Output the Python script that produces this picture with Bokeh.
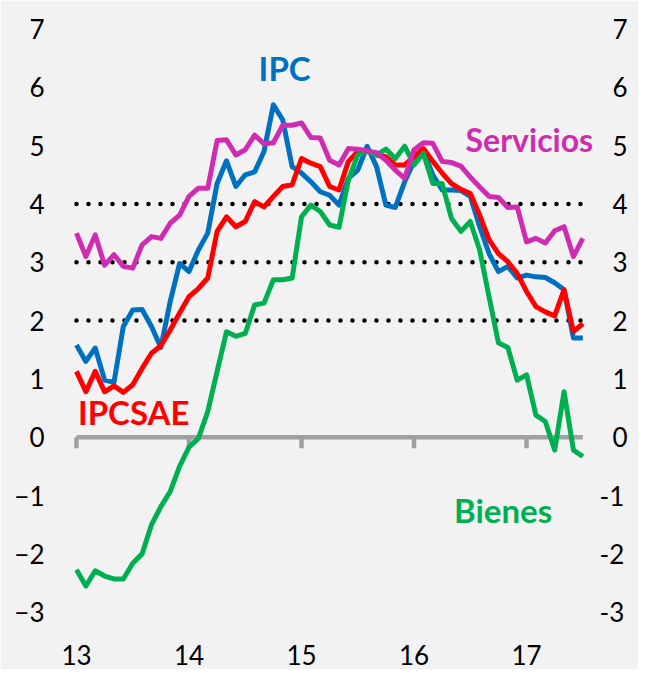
from bokeh.plotting import figure
from bokeh.models import Range1d, LinearAxis, FixedTicker, Label
from bokeh.embed import file_html
from bokeh.resources import INLINE

# Monthly data, Jan 2013 .. Jul 2017 (annual % change)
ipc = [1.58, 1.30, 1.53, 0.98, 0.94, 1.90, 2.18, 2.19, 1.90, 1.54, 2.33, 2.98,
       2.84, 3.21, 3.50, 4.35, 4.74, 4.30, 4.50, 4.55, 4.90, 5.70, 5.44, 4.64,
       4.53, 4.38, 4.21, 4.15, 3.98, 4.44, 4.58, 4.99, 4.64, 3.98, 3.94, 4.38,
       4.73, 4.90, 4.50, 4.24, 4.24, 4.23, 4.13, 3.61, 3.15, 2.84, 2.93, 2.73,
       2.78, 2.75, 2.74, 2.65, 2.53, 1.70, 1.70]
ipcsae = [1.13, 0.78, 1.13, 0.78, 0.88, 0.77, 0.90, 1.18, 1.44, 1.57, 1.84, 2.13,
          2.41, 2.55, 2.73, 3.53, 3.78, 3.61, 3.70, 4.04, 3.95, 4.13, 4.30, 4.33,
          4.78, 4.70, 4.64, 4.30, 4.24, 4.73, 4.90, 4.91, 4.84, 4.81, 4.67, 4.67,
          4.81, 4.95, 4.73, 4.53, 4.35, 4.25, 4.18, 3.81, 3.39, 3.15, 3.01, 2.81,
          2.50, 2.24, 2.15, 2.08, 2.53, 1.81, 1.95]
servicios = [3.50, 3.10, 3.47, 2.95, 3.13, 2.93, 2.90, 3.30, 3.44, 3.41, 3.67, 3.81,
             4.13, 4.27, 4.27, 5.09, 5.10, 4.84, 4.93, 5.18, 5.03, 5.05, 5.35, 5.35,
             5.39, 5.14, 5.13, 4.75, 4.67, 4.95, 4.94, 4.91, 4.88, 4.75, 4.58, 4.44,
             4.93, 5.05, 5.04, 4.73, 4.71, 4.65, 4.46, 4.29, 4.13, 4.11, 3.94, 3.95,
             3.35, 3.41, 3.33, 3.54, 3.61, 3.10, 3.41]
bienes = [-2.27, -2.55, -2.29, -2.38, -2.43, -2.43, -2.16, -2.00, -1.50, -1.19, -0.93, -0.50,
          -0.17, -0.02, 0.44, 1.13, 1.81, 1.73, 1.78, 2.27, 2.30, 2.70, 2.70, 2.73,
          3.78, 3.98, 3.87, 3.64, 3.60, 4.41, 4.84, 4.90, 4.84, 4.94, 4.78, 4.99,
          4.67, 4.87, 4.35, 4.35, 3.75, 3.53, 3.70, 3.21, 2.41, 1.62, 1.54, 0.98,
          1.07, 0.38, 0.27, -0.22, 0.78, -0.22, -0.33]

year_ticks = [0, 12, 24, 36, 48]
year_labels = ["13", "14", "15", "16", "17"]
y_ticks = [-3, -2, -1, 0, 1, 2, 3, 4, 5, 6, 7]
ref_lines = [2, 3, 4]

x = list(range(len(ipc)))

FONT = "Lato"
BG = "#f2f2f2"
GRAY = "#a0a0a0"

p = figure(width=638, height=669, output_backend="svg", toolbar_location=None,
           x_range=Range1d(-1.49, 55.14), y_range=Range1d(-3.005, 7.283),
           min_border_left=62, min_border_right=45, min_border_top=12,
           min_border_bottom=57, background_fill_color=BG, border_fill_color=BG)
p.outline_line_color = None
p.xgrid.visible = False
p.ygrid.visible = False

# bottom axis
xa = p.xaxis[0]
xa.ticker = FixedTicker(ticks=year_ticks)
xa.major_label_overrides = {t: l for t, l in zip(year_ticks, year_labels)}
xa.axis_line_color = None
xa.major_tick_line_color = None
xa.minor_tick_line_color = None
xa.major_label_text_font = FONT
xa.major_label_text_font_size = "26px"
xa.major_label_text_color = "black"
xa.major_label_standoff = 26

# left axis
ya = p.yaxis[0]
ya.ticker = FixedTicker(ticks=y_ticks)
ya.axis_line_color = None
ya.major_tick_line_color = None
ya.minor_tick_line_color = None
ya.major_label_text_font = FONT
ya.major_label_text_font_size = "26px"
ya.major_label_text_color = "black"
ya.major_label_standoff = 12

# right axis (single digits padded so that they right-align with "-n")
ra = LinearAxis(ticker=FixedTicker(ticks=y_ticks))
ra.axis_line_color = None
ra.major_tick_line_color = None
ra.minor_tick_line_color = None
ra.major_label_text_font = FONT
ra.major_label_text_font_size = "26px"
ra.major_label_text_color = "black"
ra.major_label_standoff = 0
ra.major_label_overrides = {t: ("\u2002" + str(t) if t >= 0 else str(t)) for t in y_ticks}
p.add_layout(ra, "right")

n = len(ref_lines)
# dotted reference lines spanning the data period
p.segment(x0=[x[0]] * n, x1=[x[-1]] * n, y0=ref_lines, y1=ref_lines,
          line_color="black", line_width=4.5, line_dash="0 12", line_cap="round")

# zero line with year ticks
p.segment(x0=[x[0]], x1=[x[-1]], y0=[0], y1=[0], line_color=GRAY, line_width=4.5)
p.segment(x0=year_ticks, x1=year_ticks, y0=[0] * len(year_ticks),
          y1=[-0.19] * len(year_ticks), line_color=GRAY, line_width=4.5)

series = [
    (ipc, "#0070C0"),
    (ipcsae, "#FF0000"),
    (bienes, "#00B050"),
    (servicios, "#D02CB2"),
]
for ys, col in series:
    p.line(x, ys, line_color=col, line_width=5, line_join="round")

labels = [
    ("IPC", 22.2, 6.33, "#0070C0", "33px"),
    ("Servicios", 48.3, 5.10, "#D02CB2", "32px"),
    ("IPCSAE", 6.1, 0.43, "#FF0000", "33px"),
    ("Bienes", 45.5, -1.25, "#00B050", "33px"),
]
for txt, lx, ly, col, fs in labels:
    p.add_layout(Label(x=lx, y=ly, text=txt, text_color=col, text_font=FONT,
                       text_font_style="bold", text_font_size=fs,
                       text_align="center", text_baseline="middle"))

open("out.html", "w").write(file_html(p, INLINE))
